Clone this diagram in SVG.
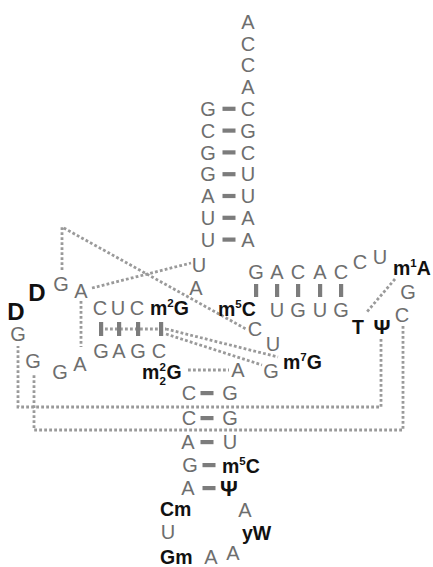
<svg xmlns="http://www.w3.org/2000/svg" width="433" height="567" viewBox="0 0 433 567">
<style>
.n{font-family:"Liberation Sans",Arial,sans-serif;font-size:20px;fill:#6e6e6e;text-anchor:middle}
.b{font-family:"Liberation Sans",Arial,sans-serif;font-size:19.5px;font-weight:bold;fill:#111}
.c{text-anchor:middle}
.bd{font-size:24px}
.s{font-size:11.5px}
.dot{stroke:#9a9a9a;stroke-width:2.8;stroke-dasharray:2.8 2.2;fill:none}
.bar{fill:#7c7c7c}
</style>
<rect width="433" height="567" fill="#fff"/>
<g id="connectors">
<path class="dot" d="M62,270 V227 L246,329"/>
<path class="dot" d="M92,288 L191,263"/>
<path class="dot" d="M81,301 V347"/>
<path class="dot" d="M100,329 H166"/>
<path class="dot" d="M166,329 L278,357"/>
<path class="dot" d="M166,334 L262,365"/>
<path class="dot" d="M188,370 H229"/>
<path class="dot" d="M395,279 L366,313"/>
<path class="dot" d="M381,339 V407 H18 V346"/>
<path class="dot" d="M403,326 V430 H34 V374"/>
</g>
<g id="pairs">
<rect class="bar" x="222.5" y="106.7" width="13" height="4.2"/>
<rect class="bar" x="222.5" y="128.5" width="13" height="4.2"/>
<rect class="bar" x="222.5" y="150.3" width="13" height="4.2"/>
<rect class="bar" x="222.5" y="172.1" width="13" height="4.2"/>
<rect class="bar" x="222.5" y="193.9" width="13" height="4.2"/>
<rect class="bar" x="222.5" y="215.7" width="13" height="4.2"/>
<rect class="bar" x="222.5" y="237.5" width="13" height="4.2"/>
<rect class="bar" x="254" y="284" width="4.2" height="13"/>
<rect class="bar" x="275" y="284" width="4.2" height="13"/>
<rect class="bar" x="296" y="284" width="4.2" height="13"/>
<rect class="bar" x="318" y="284" width="4.2" height="13"/>
<rect class="bar" x="339" y="284" width="4.2" height="13"/>
<rect class="bar" x="99" y="322" width="4.2" height="14"/>
<rect class="bar" x="117" y="322" width="4.2" height="14"/>
<rect class="bar" x="136" y="322" width="4.2" height="14"/>
<rect class="bar" x="159" y="322" width="4.2" height="14"/>
<rect class="bar" x="200.5" y="391" width="13" height="4.2"/>
<rect class="bar" x="200.5" y="416" width="13" height="4.2"/>
<rect class="bar" x="200.5" y="440" width="13" height="4.2"/>
<rect class="bar" x="202.5" y="463" width="13" height="4.2"/>
<rect class="bar" x="202.5" y="486" width="13" height="4.2"/>
</g>
<g id="acceptor">
<g id="a1"><text class="n" x="248" y="28.7">A</text></g>
<g id="a2"><text class="n" x="248" y="50.5">C</text></g>
<g id="a3"><text class="n" x="248" y="72.3">C</text></g>
<g id="a4"><text class="n" x="248" y="94.1">A</text></g>
<g id="a5"><text class="n" x="248" y="115.9">C</text></g>
<g id="a6"><text class="n" x="248" y="137.7">G</text></g>
<g id="a7"><text class="n" x="248" y="159.5">C</text></g>
<g id="a8"><text class="n" x="248" y="181.3">U</text></g>
<g id="a9"><text class="n" x="248" y="203.1">U</text></g>
<g id="a10"><text class="n" x="248" y="224.9">A</text></g>
<g id="a11"><text class="n" x="248" y="246.7">A</text></g>
<g id="l1"><text class="n" x="208" y="115.9">G</text></g>
<g id="l2"><text class="n" x="208" y="137.7">C</text></g>
<g id="l3"><text class="n" x="208" y="159.5">G</text></g>
<g id="l4"><text class="n" x="208" y="181.3">G</text></g>
<g id="l5"><text class="n" x="208" y="203.1">A</text></g>
<g id="l6"><text class="n" x="208" y="224.9">U</text></g>
<g id="l7"><text class="n" x="208" y="246.7">U</text></g>
<g id="u8"><text class="n" x="199" y="272.2">U</text></g>
<g id="a9b"><text class="n" x="196" y="294.7">A</text></g>
</g>
<g id="darm">
<g id="g-top"><text class="n" x="61" y="290.7">G</text></g>
<g id="a-top"><text class="n" x="81" y="297.7">A</text></g>
<g id="D1"><text class="b bd c" x="37" y="301">D</text></g>
<g id="D2"><text class="b bd c" x="16" y="320">D</text></g>
<g id="g-left"><text class="n" x="18" y="341.2">G</text></g>
<g id="c10"><text class="n" x="100" y="315.2">C</text></g>
<g id="u11"><text class="n" x="118" y="315.2">U</text></g>
<g id="c12"><text class="n" x="137" y="315.2">C</text></g>
<g id="m2G"><text class="b" x="150" y="314.5">m<tspan class="s" dy="-7.5">2</tspan><tspan dy="7.5">G</tspan></text></g>
<g id="g22"><text class="n" x="101" y="357.7">G</text></g>
<g id="a23"><text class="n" x="119" y="357.7">A</text></g>
<g id="g24"><text class="n" x="138" y="357.7">G</text></g>
<g id="c25"><text class="n" x="159" y="357.7">C</text></g>
<g id="g-l2"><text class="n" x="33" y="368.2">G</text></g>
<g id="g-l3"><text class="n" x="60" y="379.2">G</text></g>
<g id="a-l"><text class="n" x="80" y="370.7">A</text></g>
<g id="m22G"><text class="b" x="142" y="378.5">m</text><text class="b s" x="159.5" y="371">2</text><text class="b s" x="159.5" y="385">2</text><text class="b" x="166.5" y="378.5">G</text></g>
<g id="a44"><text class="n" x="238" y="377.2">A</text></g>
</g>
<g id="varloop">
<g id="c48"><text class="n" x="255" y="336">C</text></g>
<g id="u47"><text class="n" x="273" y="350.5">U</text></g>
<g id="g46"><text class="n" x="271" y="377.7">G</text></g>
<g id="m7G"><text class="b" x="283" y="368.5">m<tspan class="s" dy="-7.5">7</tspan><tspan dy="7.5">G</tspan></text></g>
</g>
<g id="tarm">
<g id="m5C"><text class="b" x="218" y="315.5">m<tspan class="s" dy="-7.5">5</tspan><tspan dy="7.5">C</tspan></text></g>
<g id="t-u"><text class="n" x="277" y="317.2">U</text></g>
<g id="t-g"><text class="n" x="298" y="317.2">G</text></g>
<g id="t-u2"><text class="n" x="320" y="317.2">U</text></g>
<g id="t-g2"><text class="n" x="341" y="317.2">G</text></g>
<g id="t1"><text class="n" x="256" y="279.2">G</text></g>
<g id="t2"><text class="n" x="277" y="279.2">A</text></g>
<g id="t3"><text class="n" x="298" y="279.2">C</text></g>
<g id="t4"><text class="n" x="320" y="279.2">A</text></g>
<g id="t5"><text class="n" x="341" y="279.2">C</text></g>
<g id="tc"><text class="n" x="360" y="269.2">C</text></g>
<g id="tu"><text class="n" x="380" y="264.2">U</text></g>
<g id="m1A"><text class="b" x="393" y="274.5">m<tspan class="s" dy="-7.5">1</tspan><tspan dy="7.5">A</tspan></text></g>
<g id="tg"><text class="n" x="408" y="299.2">G</text></g>
<g id="tc2"><text class="n" x="402" y="322.2">C</text></g>
<g id="T"><text class="b c" x="358" y="333.5">T</text></g>
<g id="psi"><text class="b c" x="382" y="333.5" style="font-size:21px">Ψ</text></g>
</g>
<g id="anticodon">
<g id="ac1"><text class="n" x="189" y="400.2">C</text></g>
<g id="ac2"><text class="n" x="230" y="400.2">G</text></g>
<g id="ac3"><text class="n" x="189" y="425.2">C</text></g>
<g id="ac4"><text class="n" x="230" y="425.2">G</text></g>
<g id="ac5"><text class="n" x="188" y="449.2">A</text></g>
<g id="ac6"><text class="n" x="230" y="449.2">U</text></g>
<g id="ac7"><text class="n" x="190" y="472.2">G</text></g>
<g id="m5C2"><text class="b" x="222" y="472.5">m<tspan class="s" dy="-7.5">5</tspan><tspan dy="7.5">C</tspan></text></g>
<g id="ac8"><text class="n" x="188" y="494.7">A</text></g>
<g id="psi2"><text class="b c" x="229" y="495.5" style="font-size:22px">Ψ</text></g>
<g id="Cm"><text class="b" x="160" y="515.5">Cm</text></g>
<g id="ac9"><text class="n" x="245" y="517.2">A</text></g>
<g id="ac10"><text class="n" x="168" y="539.2">U</text></g>
<g id="yW"><text class="b" x="242" y="540">yW</text></g>
<g id="Gm"><text class="b" x="160" y="564">Gm</text></g>
<g id="ac11"><text class="n" x="211" y="564.2">A</text></g>
<g id="ac12"><text class="n" x="233" y="560.2">A</text></g>
</g>
</svg>
